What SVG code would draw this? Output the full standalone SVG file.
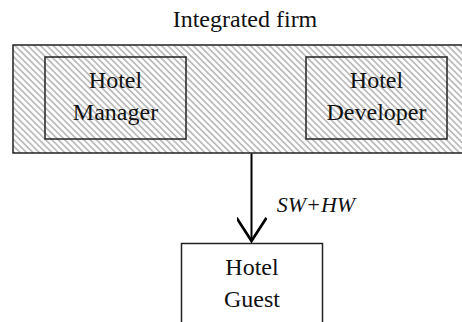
<svg xmlns="http://www.w3.org/2000/svg" width="462" height="322" viewBox="0 0 462 322">
<defs>
<pattern id="hatch" patternUnits="userSpaceOnUse" width="4.5" height="4.5" patternTransform="rotate(-45)">
<rect width="4.5" height="4.5" fill="#ffffff"/>
<rect x="0" y="0" width="1.8" height="4.5" fill="#bdbdbd"/>
</pattern>
<marker id="arr" markerUnits="userSpaceOnUse" markerWidth="30" markerHeight="30" refX="17" refY="11" orient="auto" viewBox="0 0 20 22">
<path d="M0,0 L17,11 L0,22" fill="none" stroke="#000" stroke-width="2"/>
</marker>
<style>
.t{font-family:'Liberation Serif',Tinos,'Times New Roman','DejaVu Serif',serif;font-size:24px;fill:#111;text-anchor:middle}
.box{fill:none;stroke:#222;stroke-width:1.5}
</style>
</defs>
<text class="t" x="245" y="27">Integrated firm</text>
<g id="firm">
<rect x="13" y="45" width="460" height="108" fill="url(#hatch)" stroke="#222" stroke-width="1.5"/>
</g>
<g id="manager">
<rect class="box" x="45" y="57" width="141" height="82"/>
<text class="t" x="115.5" y="88">Hotel</text>
<text class="t" x="115.5" y="120">Manager</text>
</g>
<g id="developer">
<rect class="box" x="306" y="57" width="141" height="82"/>
<text class="t" x="376.5" y="88">Hotel</text>
<text class="t" x="376.5" y="120">Developer</text>
</g>
<g id="guest">
<rect x="181.5" y="243.5" width="141" height="90" fill="#fff" stroke="#222" stroke-width="1.5"/>
<text class="t" x="252" y="275">Hotel</text>
<text class="t" x="252" y="307">Guest</text>
</g>
<g id="connectors">
<line x1="251.5" y1="153.5" x2="251.5" y2="241" stroke="#000" stroke-width="2" marker-end="url(#arr)"/>
<text class="t" x="316" y="212" style="font-style:italic;font-size:22px">SW+HW</text>
</g>
</svg>
